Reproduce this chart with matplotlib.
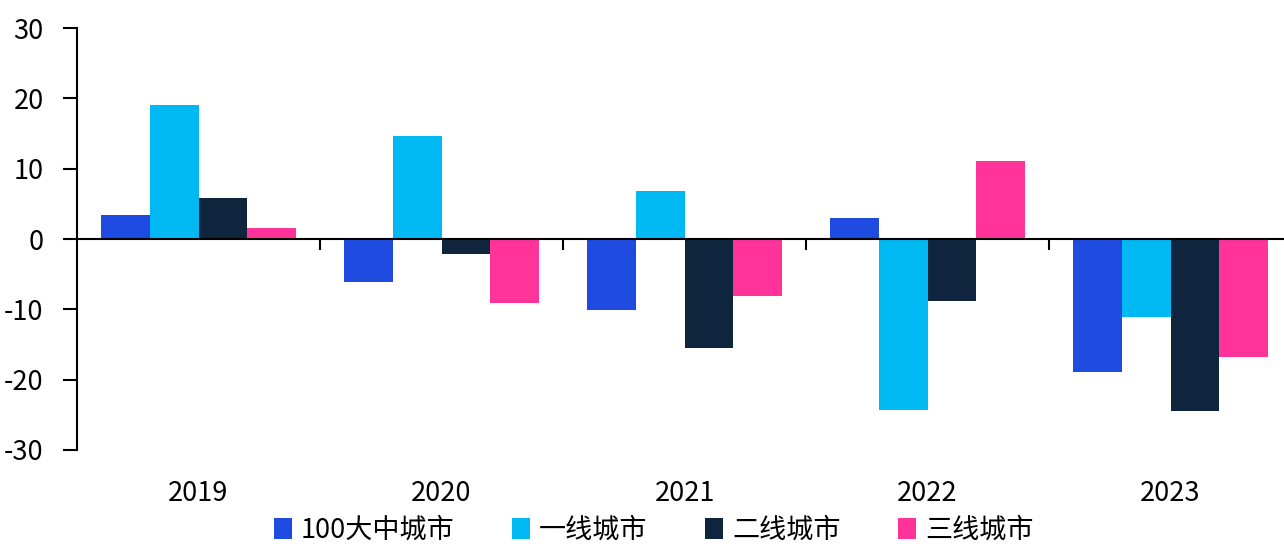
import matplotlib
matplotlib.use("Agg")
import matplotlib.pyplot as plt
import numpy as np

plt.rcParams['font.family'] = ['Noto Sans CJK SC', 'DejaVu Sans']
plt.rcParams['axes.unicode_minus'] = False

years = ['2019', '2020', '2021', '2022', '2023']
series_names = ['100大中城市', '一线城市', '二线城市', '三线城市']
v_top100 = [3.4, -6.1, -10.1, 3.0, -18.9]
v_tier1 = [19.0, 14.7, 6.8, -24.3, -11.1]
v_tier2 = [5.8, -2.1, -15.5, -8.8, -24.5]
v_tier3 = [1.6, -9.1, -8.1, 11.1, -16.8]
colors = ['#1F4BE0', '#00B9F2', '#0E253D', '#FF3399']

fig = plt.figure(figsize=(12.84, 5.44), dpi=100)
ax = fig.add_axes([0.06, 0.1728, 0.9463, 0.7757])

x = np.arange(len(years))
w = 0.2
for i, (vals, c, name) in enumerate(zip([v_top100, v_tier1, v_tier2, v_tier3], colors, series_names)):
    ax.bar(x + (i - 1.5) * w, vals, w, color=c, label=name)

ax.set_xlim(-0.5, len(years) - 0.5)
ax.set_ylim(-30, 30)
ax.set_yticks([-30, -20, -10, 0, 10, 20, 30])
ax.tick_params(axis='y', labelsize=19.5, length=10, width=1.5, direction='out', pad=14)

for s in ['top', 'right']:
    ax.spines[s].set_visible(False)
ax.spines['left'].set_linewidth(1.5)
ax.spines['bottom'].set_position(('data', 0))
ax.spines['bottom'].set_linewidth(1.5)

ax.set_xticks(np.arange(0.5, len(years) - 0.5, 1.0))
ax.set_xticklabels([])
ax.tick_params(axis='x', length=8, width=1.5, direction='out')

for xi, yr in zip(x, years):
    ax.text(xi, -36.2, yr, ha='center', va='center', fontsize=19.5)

ax.legend(loc='center', bbox_to_anchor=(0.509, 0.025), bbox_transform=fig.transFigure,
          ncol=4, frameon=False, fontsize=19.5, handlelength=0.68, handleheight=0.85,
          handletextpad=0.32, columnspacing=2.12, borderaxespad=0, borderpad=0)

fig.savefig('out.png', dpi=100)
